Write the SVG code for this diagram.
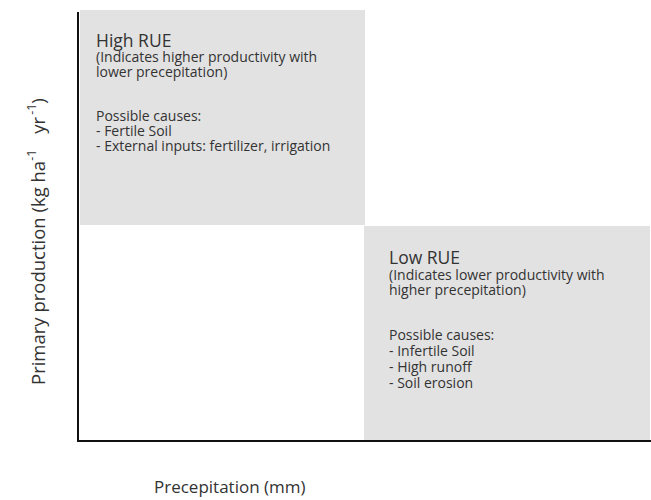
<svg xmlns="http://www.w3.org/2000/svg" width="651" height="500" viewBox="0 0 651 500">
<style>
text { font-family: "Open Sans", "Liberation Sans", sans-serif; fill: #333333; }
.title { font-size: 17.5px; }
.body { font-size: 14px; }
.axis { font-size: 17px; }
.yaxis { font-size: 18.5px; }
.sup { font-size: 12.5px; }
.box { fill: #e2e2e2; }
.axisline { stroke: #111111; stroke-width: 2; fill: none; }
</style>
<rect width="651" height="500" fill="#ffffff"/>
<g id="high-rue">
<rect class="box" x="80" y="10" width="285" height="215"/>
<text class="title" x="96" y="47">High RUE</text>
<text class="body" x="96" y="62">(Indicates higher productivity with</text>
<text class="body" x="96" y="77">lower precepitation)</text>
<text class="body" x="96" y="121">Possible causes:</text>
<text class="body" x="96" y="136">- Fertile Soil</text>
<text class="body" x="96" y="151">- External inputs: fertilizer, irrigation</text>
</g>
<g id="low-rue">
<rect class="box" x="364" y="226" width="286" height="214"/>
<text class="title" x="389" y="264">Low RUE</text>
<text class="body" x="389" y="280">(Indicates lower productivity with</text>
<text class="body" x="389" y="295">higher precepitation)</text>
<text class="body" x="389" y="340">Possible causes:</text>
<text class="body" x="389" y="356">- Infertile Soil</text>
<text class="body" x="389" y="372">- High runoff</text>
<text class="body" x="389" y="388">- Soil erosion</text>
</g>
<g id="axes">
<path class="axisline" d="M78,12 V441 H651"/>
</g>
<g id="labels">
<text class="axis" x="154" y="493">Precepitation (mm)</text>
<text class="yaxis" transform="translate(45,385) rotate(-90)">Primary production (kg ha<tspan class="sup" dy="-9">-1</tspan><tspan dy="9" dx="16">yr</tspan><tspan class="sup" dy="-9" dx="2">-1</tspan><tspan dy="9">)</tspan></text>
</g>
</svg>
